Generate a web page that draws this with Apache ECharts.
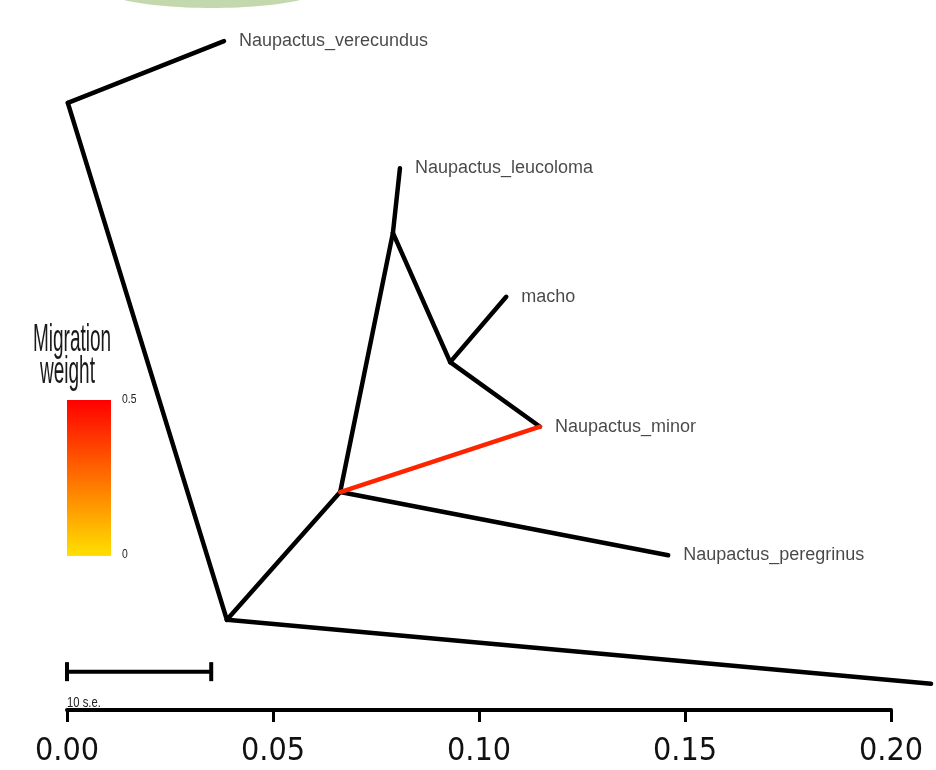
<!DOCTYPE html>
<html>
<head>
    <meta charset="UTF-8">
    <title>TreeMix tree</title>
    <script type="text/javascript" src="https://cdn.jsdelivr.net/npm/echarts@6/dist/echarts.min.js"></script>
    <style>
        body {
            margin: 0;
            padding: 0;
            background-color: #fff;
        }
    </style>
</head>
<body>
<div id="tree" style="width:936px; height:770px;"></div>

<script>
    // nodes of the tree: drift (x) and vertical position (y)
    var nodeNames = ['A', 'B', 'C', 'D', 'E',
        'Naupactus_verecundus', 'outgroup', 'Naupactus_peregrinus',
        'Naupactus_leucoloma', 'macho', 'Naupactus_minor'];
    var nodeDrift = [0.0002, 0.0388, 0.0663, 0.0791, 0.0930,
        0.0381, 0.2097, 0.1459, 0.0808, 0.1066, 0.1148];
    var nodeHeight = [0.855, 0.127, 0.307, 0.672, 0.490,
        0.942, 0.037, 0.218, 0.763, 0.582, 0.399];
    var tipLabels = ['Naupactus_verecundus', 'Naupactus_peregrinus',
        'Naupactus_leucoloma', 'macho', 'Naupactus_minor'];

    // tree edges, parent -> child
    var edgeFrom = ['A', 'A', 'B', 'B', 'C', 'C', 'D', 'D', 'E', 'E'];
    var edgeTo = ['Naupactus_verecundus', 'B', 'outgroup', 'C', 'D',
        'Naupactus_peregrinus', 'Naupactus_leucoloma', 'E', 'macho', 'Naupactus_minor'];

    // migration edges
    var migFrom = ['C'];
    var migTo = ['Naupactus_minor'];
    var migWeight = [0.42];

    var axisTicks = [0, 0.05, 0.10, 0.15, 0.20];
    var plotMaxDrift = 0.2109;   // right edge of the picture
    var scaleBar = 0.035;        // 10 s.e.
    var scaleBarHeight = 0.054;

    function pos(name) {
        var i = nodeNames.indexOf(name);
        return [nodeDrift[i], nodeHeight[i]];
    }

    // yellow (0) -> red (0.5)
    function weightColor(w) {
        var t = Math.max(0, Math.min(1, w / 0.5));
        var g = Math.round(224 * (1 - t));
        return 'rgb(255,' + g + ',0)';
    }

    var series = [];
    for (var i = 0; i < edgeFrom.length; i++) {
        series.push({
            type: 'line',
            data: [pos(edgeFrom[i]), pos(edgeTo[i])],
            symbol: 'none',
            silent: true,
            lineStyle: {color: '#000', width: 4.5, cap: 'round'}
        });
    }
    for (var j = 0; j < migFrom.length; j++) {
        series.push({
            type: 'line',
            data: [pos(migFrom[j]), pos(migTo[j])],
            symbol: 'none',
            silent: true,
            z: 3,
            lineStyle: {color: weightColor(migWeight[j]), width: 4.5, cap: 'round'}
        });
    }
    series.push({
        type: 'scatter',
        symbolSize: 0,
        silent: true,
        data: tipLabels.map(function (n) {
            return {name: n, value: pos(n)};
        }),
        label: {
            show: true,
            position: 'right',
            distance: 15,
            formatter: '{b}',
            fontFamily: 'Liberation Sans, Arial',
            fontSize: 18,
            color: '#1a1a1a'
        }
    });
    // scale bar
    series.push({
        type: 'line',
        data: [[0, scaleBarHeight], [scaleBar, scaleBarHeight]],
        symbol: 'rect',
        symbolSize: [4, 19],
        itemStyle: {color: '#000'},
        silent: true,
        lineStyle: {color: '#000', width: 4}
    });

    var chart = echarts.init(document.getElementById('tree'), null, {renderer: 'canvas'});
    chart.setOption({
        animation: false,
        backgroundColor: '#fff',
        grid: [
            {left: 67, right: 0, top: 0, bottom: 60, containLabel: false},
            {left: 67, right: 45, top: 0, bottom: 60, containLabel: false}
        ],
        xAxis: [
            {type: 'value', gridIndex: 0, min: 0, max: plotMaxDrift, show: false},
            {
                type: 'value',
                gridIndex: 1,
                min: axisTicks[0],
                max: axisTicks[axisTicks.length - 1],
                interval: 0.05,
                axisLine: {show: true, onZero: false, lineStyle: {color: '#000', width: 4}},
                axisTick: {show: true, length: 12, lineStyle: {color: '#000', width: 3}},
                splitLine: {show: false},
                axisLabel: {
                    margin: 26,
                    fontFamily: 'DejaVu Sans Condensed, Liberation Sans',
                    fontSize: 32,
                    color: '#111',
                    formatter: function (v) { return v.toFixed(2); }
                }
            }
        ],
        yAxis: [
            {type: 'value', gridIndex: 0, min: 0, max: 1, show: false},
            {type: 'value', gridIndex: 1, min: 0, max: 1, show: false}
        ],
        series: series,
        graphic: [
            {
                type: 'ellipse', shape: {cx: 212, cy: -12, rx: 110, ry: 20},
                style: {fill: '#c4d8ad'}, silent: true
            },
            {
                type: 'text', x: 33, y: 322, scaleX: 0.5,
                style: {text: 'Migration', font: '38px "Liberation Sans", Arial', fill: '#1a1a1a'}
            },
            {
                type: 'text', x: 40, y: 354, scaleX: 0.5,
                style: {text: 'weight', font: '38px "Liberation Sans", Arial', fill: '#1a1a1a'}
            },
            {
                type: 'rect', shape: {x: 67, y: 400, width: 44, height: 156},
                style: {
                    fill: new echarts.graphic.LinearGradient(0, 0, 0, 1, [
                        {offset: 0, color: weightColor(0.5)},
                        {offset: 1, color: weightColor(0)}
                    ])
                }
            },
            {
                type: 'text', x: 122, y: 393, scaleX: 0.8,
                style: {text: '0.5', font: '13px "Liberation Sans", Arial', fill: '#222'}
            },
            {
                type: 'text', x: 122, y: 548, scaleX: 0.8,
                style: {text: '0', font: '13px "Liberation Sans", Arial', fill: '#222'}
            },
            {
                type: 'text', x: 67, y: 695, scaleX: 0.75,
                style: {text: '10 s.e.', font: '15px "Liberation Sans", Arial', fill: '#222'}
            }
        ]
    });
</script>
</body>
</html>
